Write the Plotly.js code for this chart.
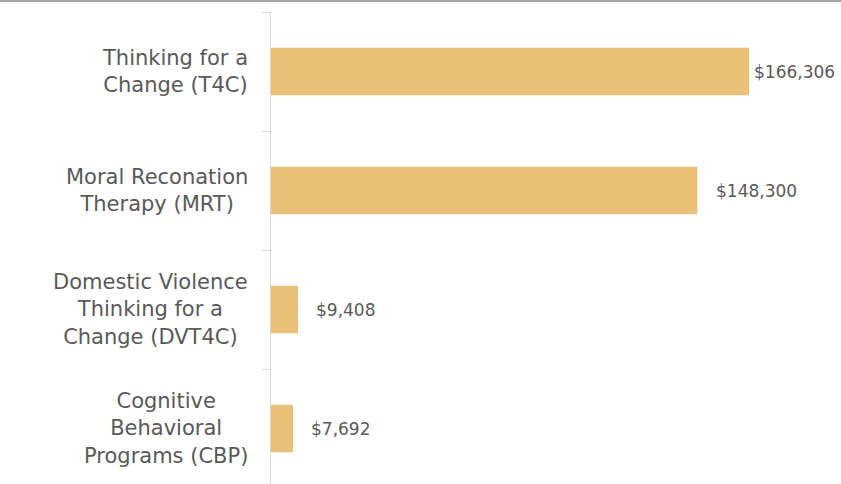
<!DOCTYPE html>
<html>
<head>
<meta charset="utf-8">
<script src="https://cdn.plot.ly/plotly-3.0.1.min.js"></script>
<style>
html,body{margin:0;padding:0;background:#fff;overflow:hidden;}
#chart{width:841px;height:486px;border-top:2px solid #a6a6a6;}
</style>
</head>
<body>
<div id="chart"></div>
<script>
const categories = [
  "Thinking for a<br>Change (T4C)",
  "Moral Reconation<br>Therapy (MRT)",
  "Domestic Violence<br>Thinking for a<br>Change (DVT4C)",
  "Cognitive<br>Behavioral<br>Programs (CBP)"
];
const costs = [166306, 148300, 9408, 7692];

const FONT = "DejaVu Sans, sans-serif";
const TEXT = "#595959";
const labelGap = [5, 19, 18, 18];

const trace = {
  type: "bar",
  orientation: "h",
  y: categories,
  x: costs,
  width: 0.4,
  marker: {color: "#EBC17A"},
  hoverinfo: "none"
};

const catAnnotations = categories.map(c => ({
  xref: "paper", yref: "y", x: 0, y: c,
  xanchor: "right", yanchor: "middle", xshift: -21,
  align: "center", showarrow: false, text: c,
  font: {family: FONT, size: 21, color: TEXT}
}));

const valAnnotations = categories.map((c, i) => ({
  xref: "x", yref: "y", x: costs[i], y: c,
  xanchor: "left", yanchor: "middle", xshift: labelGap[i] - 2, yshift: 0,
  showarrow: false, text: "$" + costs[i].toLocaleString("en-US"),
  font: {family: FONT, size: 17, color: TEXT}
}));

const layout = {
  width: 841, height: 486,
  margin: {l: 271, r: 0, t: 10, b: 0},
  paper_bgcolor: "#fff", plot_bgcolor: "#fff",
  showlegend: false,
  xaxis: {range: [0, 198300], visible: false, fixedrange: true},
  yaxis: {
    autorange: "reversed", showticklabels: false,
    tickson: "boundaries", ticks: "outside", ticklen: 8, tickcolor: "#d9d9d9",
    showline: true, linecolor: "#d9d9d9", linewidth: 1, showgrid: false, zeroline: false
  },
  annotations: catAnnotations.concat(valAnnotations)
};

Plotly.newPlot("chart", [trace], layout, {displayModeBar: false, staticPlot: true});
</script>
</body>
</html>
